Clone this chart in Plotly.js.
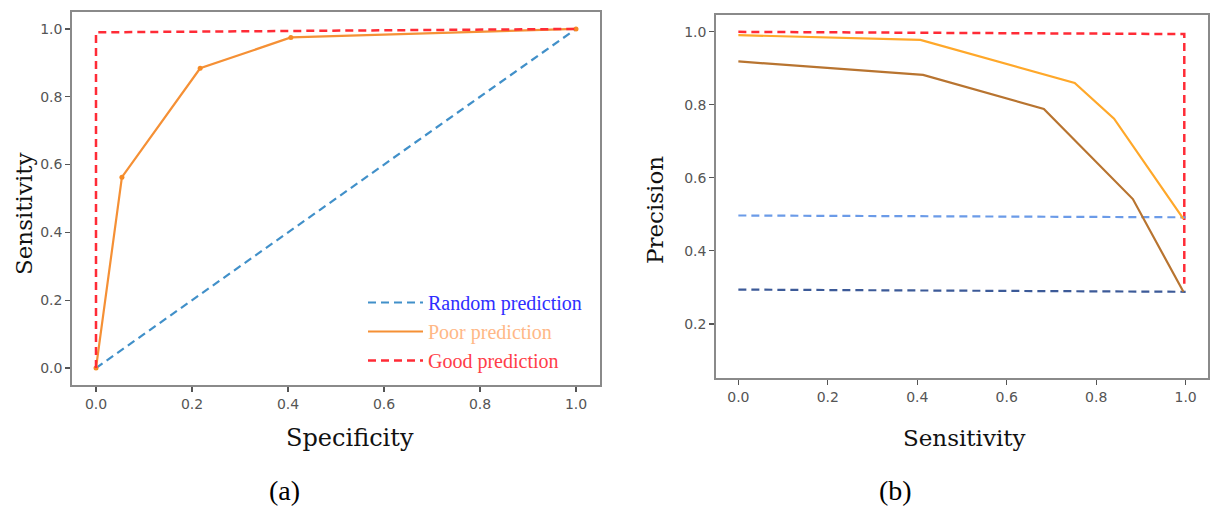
<!DOCTYPE html>
<html>
<head>
<meta charset="utf-8">
<script src="https://cdn.plot.ly/plotly-3.0.1.min.js"></script>
<style>html,body{margin:0;padding:0;background:#fff;}#chart{width:1213px;height:506px;}</style>
</head>
<body>
<div id="chart"></div>
<script>
// ---- Panel (a): ROC ----
const randomX = [0, 1];
const randomY = [0, 1];
const poorX = [0, 0.054, 0.217, 0.406, 1.0];
const poorY = [0, 0.563, 0.884, 0.975, 1.0];
const goodX = [0, 0, 1.0];
const goodY = [0, 0.99, 1.0];

// ---- Panel (b): Precision-Sensitivity ----
const perfectX = [0, 0.997, 0.997];
const perfectY = [1.0, 0.994, 0.31];
const curve1X = [0, 0.407, 0.752, 0.840, 0.995];
const curve1Y = [0.991, 0.978, 0.860, 0.762, 0.488];
const curve2X = [0, 0.413, 0.683, 0.882, 0.995];
const curve2Y = [0.919, 0.882, 0.789, 0.542, 0.288];
const base1X = [0, 1.0];
const base1Y = [0.497, 0.492];
const base2X = [0, 1.0];
const base2Y = [0.294, 0.288];

const tickVals = [0, 0.2, 0.4, 0.6, 0.8, 1.0];
const tickText = ["0.0", "0.2", "0.4", "0.6", "0.8", "1.0"];
const tickValsB = [0.2, 0.4, 0.6, 0.8, 1.0];
const tickTextB = ["0.2", "0.4", "0.6", "0.8", "1.0"];

const DASH = '8px,5px';
const traces = [
  {x: randomX, y: randomY, mode: 'lines', type: 'scatter', xaxis: 'x', yaxis: 'y',
   name: '<span style="color:#2e2eff">Random prediction</span>', legendgroup: 'a',
   line: {color: '#4190c9', width: 2.2, dash: DASH}},
  {x: poorX, y: poorY, mode: 'lines', type: 'scatter', xaxis: 'x', yaxis: 'y',
   name: '<span style="color:#ffb887">Poor prediction</span>', legendgroup: 'b',
   line: {color: '#f59035', width: 2.2}},
  {x: poorX, y: poorY, mode: 'markers', type: 'scatter', xaxis: 'x', yaxis: 'y', showlegend: false,
   marker: {size: 5, color: '#f58a25'}},
  {x: goodX, y: goodY, mode: 'lines', type: 'scatter', xaxis: 'x', yaxis: 'y',
   name: '<span style="color:#ff3d48">Good prediction</span>', legendgroup: 'c',
   line: {color: '#ff2b36', width: 2.5, dash: DASH}},
  {x: perfectX, y: perfectY, mode: 'lines', type: 'scatter', xaxis: 'x2', yaxis: 'y2', showlegend: false,
   line: {color: '#ff2b36', width: 2.5, dash: DASH}},
  {x: base1X, y: base1Y, mode: 'lines', type: 'scatter', xaxis: 'x2', yaxis: 'y2', showlegend: false,
   line: {color: '#6b9be8', width: 2.2, dash: DASH}},
  {x: base2X, y: base2Y, mode: 'lines', type: 'scatter', xaxis: 'x2', yaxis: 'y2', showlegend: false,
   line: {color: '#3c5a98', width: 2.2, dash: DASH}},
  {x: curve1X, y: curve1Y, mode: 'lines', type: 'scatter', xaxis: 'x2', yaxis: 'y2', showlegend: false,
   line: {color: '#ffa82a', width: 2.2}},
  {x: curve2X, y: curve2Y, mode: 'lines', type: 'scatter', xaxis: 'x2', yaxis: 'y2', showlegend: false,
   line: {color: '#b87430', width: 2.2}}
];

const axisCommon = {
  showline: true, mirror: true, linecolor: '#8a8a8a', linewidth: 1.8,
  ticks: 'outside', ticklen: 5, tickcolor: '#555555', tickwidth: 1.2,
  showgrid: false, zeroline: false, fixedrange: true,
  tickfont: {family: 'DejaVu Sans', size: 14, color: '#555555'}
};

const serif = 'DejaVu Serif';
const cap = 'Liberation Serif';
const W = 1213, H = 506;
const layout = {
  width: W, height: H,
  margin: {l: 0, r: 0, t: 0, b: 0},
  paper_bgcolor: '#ffffff', plot_bgcolor: '#ffffff',
  showlegend: true,
  legend: {x: 363/W, y: 1 - 283/H, xanchor: 'left', yanchor: 'top', itemwidth: 55,
           bgcolor: 'rgba(0,0,0,0)', borderwidth: 0, tracegroupgap: 0,
           font: {family: cap, size: 20}},
  xaxis: Object.assign({}, axisCommon, {domain: [72/W, 600/W], range: [-0.05, 1.05],
           tickvals: tickVals, ticktext: tickText, anchor: 'y'}),
  yaxis: Object.assign({}, axisCommon, {domain: [1 - 385/H, 1 - 12/H], range: [-0.05, 1.05],
           tickvals: tickVals, ticktext: tickText, anchor: 'x'}),
  xaxis2: Object.assign({}, axisCommon, {domain: [716/W, 1208/W], range: [-0.05, 1.05],
           tickvals: tickVals, ticktext: tickText, anchor: 'y2'}),
  yaxis2: Object.assign({}, axisCommon, {domain: [1 - 378.3/H, 1 - 14.7/H], range: [0.051, 1.047],
           tickvals: tickValsB, ticktext: tickTextB, anchor: 'x2'}),
  annotations: [
    {text: 'Specificity', xref: 'paper', yref: 'paper', x: 350/W, y: 1 - 438/H,
     xanchor: 'center', yanchor: 'middle', showarrow: false, font: {family: serif, size: 24, color: '#111'}},
    {text: 'Sensitivity', xref: 'paper', yref: 'paper', x: 24/W, y: 1 - 214/H, textangle: -90,
     xanchor: 'center', yanchor: 'middle', showarrow: false, font: {family: serif, size: 23, color: '#111'}},
    {text: 'Sensitivity', xref: 'paper', yref: 'paper', x: 964/W, y: 1 - 438/H,
     xanchor: 'center', yanchor: 'middle', showarrow: false, font: {family: serif, size: 23, color: '#111'}},
    {text: 'Precision', xref: 'paper', yref: 'paper', x: 655/W, y: 1 - 210/H, textangle: -90,
     xanchor: 'center', yanchor: 'middle', showarrow: false, font: {family: serif, size: 23, color: '#111'}},
    {text: '(a)', xref: 'paper', yref: 'paper', x: 284/W, y: 1 - 490/H,
     xanchor: 'center', yanchor: 'middle', showarrow: false, font: {family: cap, size: 28, color: '#000'}},
    {text: '(b)', xref: 'paper', yref: 'paper', x: 895/W, y: 1 - 490/H,
     xanchor: 'center', yanchor: 'middle', showarrow: false, font: {family: cap, size: 28, color: '#000'}}
  ]
};

Plotly.newPlot('chart', traces, layout, {staticPlot: true, displayModeBar: false});
</script>
</body>
</html>
